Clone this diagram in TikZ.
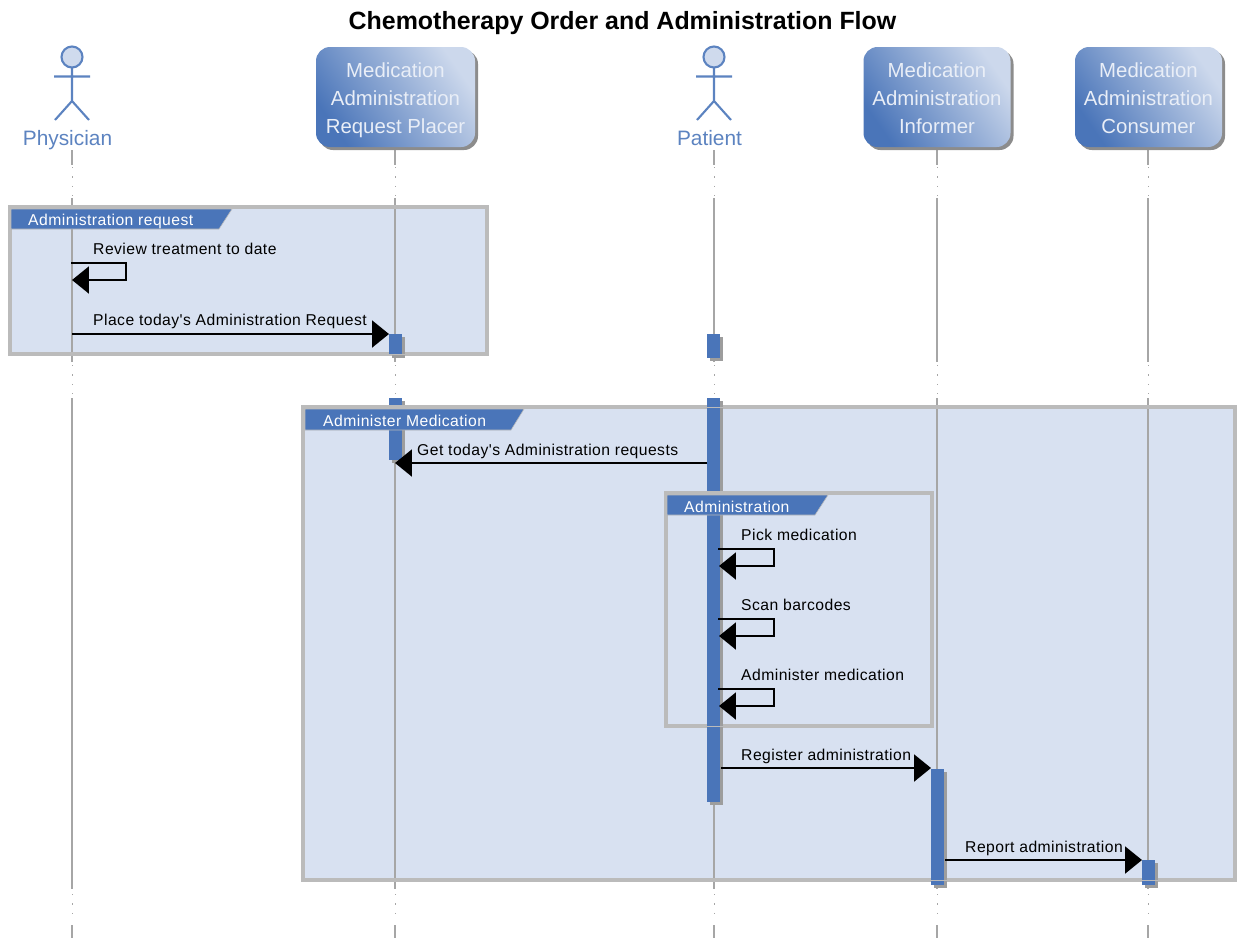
\documentclass[tikz,border=0pt]{standalone}
\usepackage{fontspec}
\setmainfont{Liberation Sans}
\newfontfamily\seqfont[LetterSpace=2.8]{Liberation Sans}
\usetikzlibrary{arrows.meta,shadows}
\definecolor{barblue}{HTML}{4A75B9}
\definecolor{framefill}{HTML}{D8E1F1}
\definecolor{frameline}{HTML}{BBBBBB}
\definecolor{lifegray}{HTML}{A6A6A6}
\definecolor{shadowgray}{HTML}{8C8C8C}
\definecolor{boxlight}{HTML}{CCD8EC}
\definecolor{actorfill}{HTML}{CFDAED}
\newcommand{\seqlife}[1]{
  \draw[lifeline] (#1,150) -- (#1,165);
  \draw[lifedots] (#1,167) -- (#1,197);
  \draw[lifeline] (#1,198) -- (#1,362);
  \draw[lifedots] (#1,365) -- (#1,397);
  \draw[lifeline] (#1,398) -- (#1,889);
  \draw[lifedots] (#1,894) -- (#1,922);
  \draw[lifeline] (#1,925) -- (#1,938);
}
\newcommand{\seqactor}[1]{
  \draw[actorline,fill=actorfill] (#1,57) circle[radius=10.5];
  \draw[actorline] (#1,68) -- (#1,101) (#1-18,76.5) -- (#1+18,76.5)
    (#1-17,120) -- (#1,101) -- (#1+17,120);
}
\newcommand{\seqtop}{\rule{0pt}{18.5pt}}
\newcommand{\seqlow}{\rule[-4pt]{0pt}{4pt}}
\begin{document}
\begin{tikzpicture}
  [x=0.03cm,y=-0.03cm,
   participant/.style={rectangle,rounded corners=12,minimum width=4.41cm,minimum height=3cm,
                  left color=barblue,right color=boxlight,shading angle=125,
                  drop shadow={shadow xshift=0.09cm,shadow yshift=-0.09cm,fill=shadowgray,opacity=1},
                  text=white!88!barblue,align=center,font=\fontsize{17.4}{23.5}\selectfont,inner sep=0},
   person/.style={text=barblue!90!white,anchor=base,font=\fontsize{17.8}{20}\selectfont,inner sep=0},
   lifeline/.style={lifegray,line width=1.8pt},
   lifedots/.style={lifegray,line width=0.7pt,dash pattern=on 1pt off 7pt},
   actorline/.style={barblue!90!white,line width=1.8pt},
   framebox/.style={framefill},
   frameedge/.style={frameline,line width=2.8pt},
   framethin/.style={frameline,line width=0.8pt},
   activebar/.style={barblue},
   activeshadow/.style={shadowgray!85},
   tab/.style={fill=barblue,draw=frameline,line width=0.5pt},
   tablabel/.style={text=white,anchor=base west,font=\seqfont\fontsize{13.4}{14}\selectfont,inner sep=0},
   msglabel/.style={anchor=base west,font=\seqfont\fontsize{13.4}{14}\selectfont,inner sep=0},
   msg/.style={black,line width=2pt,-{Triangle[length=14.5pt,width=23pt]}}]
  \useasboundingbox (0,0) rectangle (1237,938);
  \node[font=\bfseries\fontsize{21.3}{24}\selectfont,inner sep=0] (title) at (622.5,23) {Chemotherapy Order and Administration Flow};

  % frame areas
  \fill[framebox] (10,207) rectangle (487,354);
  \fill[framebox] (303,407) rectangle (1235,880);

  % lifelines
  \seqlife{72}
  \seqlife{395}
  \seqlife{714}
  \seqlife{937}
  \seqlife{1148}

  % frame outlines
  \draw[frameedge] (10,207) rectangle (487,354);
  \draw[frameedge] (303,407) rectangle (1235,880);
  \draw[frameedge] (666,493) rectangle (932,726);

  % activations
  \fill[activeshadow] (392,337) rectangle (405,358);
  \fill[activeshadow] (710,337) rectangle (723,361);
  \fill[activeshadow] (392,401) rectangle (405,463);
  \fill[activeshadow] (710,401) rectangle (723,805);
  \fill[activeshadow] (934,772) rectangle (947,888);
  \fill[activeshadow] (1145,863) rectangle (1158,888);
  \fill[activebar] (389,334) rectangle (402,355);
  \fill[activebar] (707,334) rectangle (720,358);
  \fill[activebar] (389,398) rectangle (402,460);
  \fill[activebar] (707,398) rectangle (720,802);
  \fill[activebar] (931,769) rectangle (944,885);
  \fill[activebar] (1142,860) rectangle (1155,885);

  % border shows faintly over the bars
  \draw[framethin] (387,354) -- (407,354);
  \draw[frameedge] (387,407) -- (407,407);
  \draw[framethin] (705,407) -- (725,407);
  \draw[frameedge] (705,493) -- (725,493);
  \draw[framethin] (705,726) -- (725,726);
  \draw[framethin] (929,880) -- (949,880);
  \draw[framethin] (1140,880) -- (1160,880);

  % frame tabs
  \draw[tab] (11,209) -- (232,209) -- (219,229) -- (11,229) -- cycle;
  \draw[tab] (305,409) -- (524,409) -- (511,430) -- (305,430) -- cycle;
  \draw[tab] (667,495) -- (828,495) -- (815,515) -- (667,515) -- cycle;
  \node[tablabel] (tabrequest) at (28,225) {Administration request};
  \node[tablabel] (tabadminister) at (323,426) {Administer Medication};
  \node[tablabel] (tabadministration) at (684,512) {Administration};

  % participants
  \node[participant,minimum width=4.77cm] (placer) at (395.5,97) {\seqtop Medication\\Administration\\Request Placer\seqlow};
  \node[participant] (informer) at (937,97) {\seqtop Medication\\Administration\\Informer\seqlow};
  \node[participant] (consumer) at (1148.5,97) {\seqtop Medication\\Administration\\Consumer\seqlow};

  % actors
  \seqactor{72}
  \seqactor{714}
  \node[person] (physician) at (67.5,145) {Physician};
  \node[person] (patient) at (709.5,145) {Patient};

  % messages
  \coordinate (phya) at (71,263);
  \coordinate (phyb) at (126,263);
  \coordinate (phyc) at (126,280);
  \coordinate (phyd) at (72,280);
  \draw[msg] (phya) -- (phyb) -- (phyc) -- (phyd);
  \node[msglabel] (review) at (93,254) {Review treatment to date};

  \coordinate (phye) at (72,334);
  \coordinate (plca) at (389,334);
  \draw[msg] (phye) -- (plca);
  \node[msglabel] (place) at (93,325) {Place today's Administration Request};

  \coordinate (pata) at (707,463);
  \coordinate (plcb) at (395,463);
  \draw[msg] (pata) -- (plcb);
  \node[msglabel] (gettoday) at (417,455) {Get today's Administration requests};

  \foreach \y/\name/\txt in {549/pick/Pick medication,619/scan/Scan barcodes,689/give/Administer medication}{
    \coordinate (\name a) at (718,\y);
    \coordinate (\name b) at (774,\y);
    \coordinate (\name c) at (774,\y+17);
    \coordinate (\name d) at (719,\y+17);
    \draw[msg] (\name a) -- (\name b) -- (\name c) -- (\name d);
    \node[msglabel] (\name) at (741,\y-9) {\txt};
  }

  \coordinate (pate) at (721,768);
  \coordinate (infa) at (931,768);
  \draw[msg] (pate) -- (infa);
  \node[msglabel] (register) at (741,760) {Register administration};

  \coordinate (infb) at (945,860);
  \coordinate (cona) at (1142,860);
  \draw[msg] (infb) -- (cona);
  \node[msglabel] (report) at (965,852) {Report administration};
\end{tikzpicture}
\end{document}
